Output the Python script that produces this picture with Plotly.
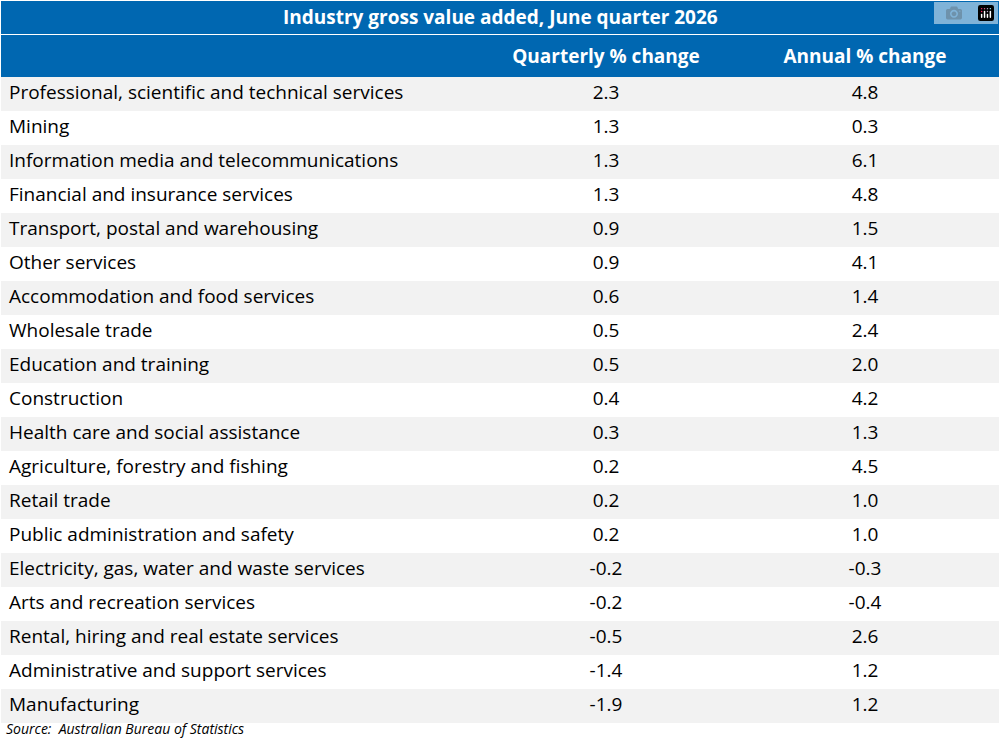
import plotly.graph_objects as go

industries = ["Professional, scientific and technical services","Mining","Information media and telecommunications",
"Financial and insurance services","Transport, postal and warehousing","Other services","Accommodation and food services",
"Wholesale trade","Education and training","Construction","Health care and social assistance",
"Agriculture, forestry and fishing","Retail trade","Public administration and safety",
"Electricity, gas, water and waste services","Arts and recreation services","Rental, hiring and real estate services",
"Administrative and support services","Manufacturing"]
quarterly = [2.3,1.3,1.3,1.3,0.9,0.9,0.6,0.5,0.5,0.4,0.3,0.2,0.2,0.2,-0.2,-0.2,-0.5,-1.4,-1.9]
annual = [4.8,0.3,6.1,4.8,1.5,4.1,1.4,2.4,2.0,4.2,1.3,4.5,1.0,1.0,-0.3,-0.4,2.6,1.2,1.2]
headers = ["", "Quarterly % change", "Annual % change"]
title = "Industry gross value added, June quarter 2026"
source = "Source:  Australian Bureau of Statistics"

W, H = 1000, 751
blue = "#0067b1"
fills = ["#f2f2f2" if i % 2 == 0 else "#ffffff" for i in range(len(industries))]
font = "Open Sans"

fig = go.Figure(go.Table(
    columnwidth=[480, 250, 268],
    domain=dict(x=[0.001, 0.999], y=[0, 1 - 35 / H]),
    header=dict(values=[f"<b>{h}</b>" for h in headers], fill_color=blue, line=dict(color=blue, width=0),
                font=dict(color="white", size=19, family=font), align="center", height=34),
    cells=dict(values=[industries, [f"{v:.1f}" for v in quarterly], [f"{v:.1f}" for v in annual]],
               fill_color=[fills] * 3, line=dict(color="rgba(0,0,0,0)", width=0),
               font=dict(color="black", size=19, family=font), align=["left", "center", "center"], height=34),
))
fig.add_shape(type="rect", xref="paper", yref="paper", x0=0.001, x1=0.999, y0=1 - 34 / H, y1=1 - 1 / H,
              fillcolor=blue, line=dict(width=0))
fig.add_annotation(x=0.5, y=1 - 17.5 / H, xref="paper", yref="paper", text=f"<b>{title}</b>", showarrow=False,
                   font=dict(color="white", size=19, family=font), xanchor="center", yanchor="middle")
fig.add_annotation(x=0.004, y=1 - 728 / H, xref="paper", yref="paper", text=f"<i>{source}</i>", showarrow=False,
                   font=dict(color="black", size=14, family=font), xanchor="left", yanchor="middle")
fig.update_layout(width=W, height=H, margin=dict(l=0, r=0, t=0, b=0), paper_bgcolor="white")
fig.write_html("out.html", post_script="document.body.style.margin='0';document.body.style.overflow='hidden';")
